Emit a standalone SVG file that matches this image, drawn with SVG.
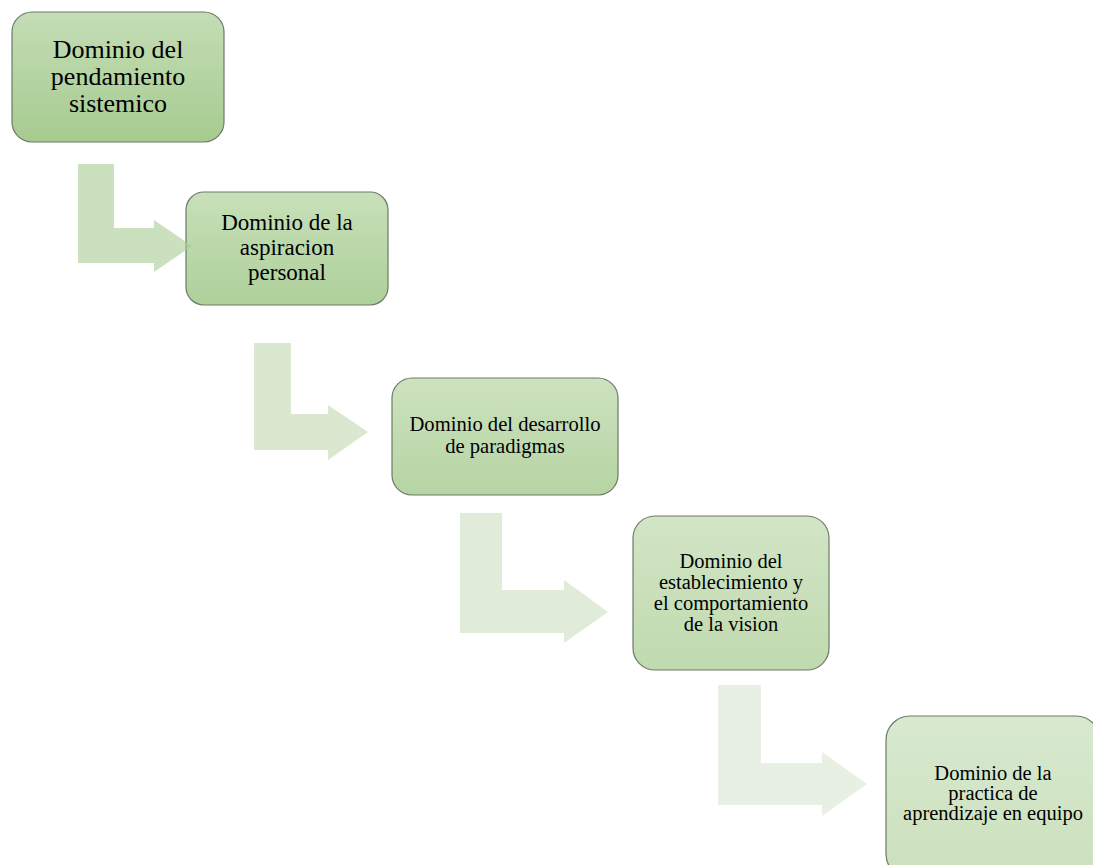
<svg xmlns="http://www.w3.org/2000/svg" width="1093" height="865" viewBox="0 0 1093 865">
<style>
.box{stroke:#6c7a66;stroke-width:1.2}
text{font-family:'Liberation Serif','Times New Roman',serif;fill:#000;text-anchor:middle}
</style>
<defs>
<linearGradient id="g1" x1="0" y1="0" x2="0" y2="1"><stop offset="0" stop-color="#c4ddb5"/><stop offset="1" stop-color="#a6cb90"/></linearGradient>
<linearGradient id="g2" x1="0" y1="0" x2="0" y2="1"><stop offset="0" stop-color="#c8e0b9"/><stop offset="1" stop-color="#aed09a"/></linearGradient>
<linearGradient id="g3" x1="0" y1="0" x2="0" y2="1"><stop offset="0" stop-color="#cde2bf"/><stop offset="1" stop-color="#b6d4a3"/></linearGradient>
<linearGradient id="g4" x1="0" y1="0" x2="0" y2="1"><stop offset="0" stop-color="#d2e5c6"/><stop offset="1" stop-color="#c0daae"/></linearGradient>
<linearGradient id="g5" x1="0" y1="0" x2="0" y2="1"><stop offset="0" stop-color="#d8e9cf"/><stop offset="1" stop-color="#cbe1bd"/></linearGradient>
</defs>
<g id="n1"><rect class="box" x="12" y="12" width="212" height="130" rx="20" fill="url(#g1)"/>
<text font-family="Liberation Serif, serif" font-size="26"><tspan x="118" y="58">Dominio del</tspan><tspan x="118" y="85">pendamiento</tspan><tspan x="118" y="112">sistemico</tspan></text></g>
<g id="n2"><rect class="box" x="186" y="192" width="202" height="113" rx="18" fill="url(#g2)"/>
<text font-family="Liberation Serif, serif" font-size="23"><tspan x="287" y="230">Dominio de la</tspan><tspan x="287" y="255">aspiracion</tspan><tspan x="287" y="280">personal</tspan></text></g>
<g id="n3"><rect class="box" x="392" y="378" width="226" height="117" rx="20" fill="url(#g3)"/>
<text font-family="Liberation Serif, serif" font-size="20.6"><tspan x="505" y="431">Dominio del desarrollo</tspan><tspan x="505" y="453">de paradigmas</tspan></text></g>
<g id="n4"><rect class="box" x="633" y="516" width="196" height="154" rx="22" fill="url(#g4)"/>
<text font-family="Liberation Serif, serif" font-size="20.5"><tspan x="731" y="568">Dominio del</tspan><tspan x="731" y="589">establecimiento y</tspan><tspan x="731" y="610">el comportamiento</tspan><tspan x="731" y="631">de la vision</tspan></text></g>
<g id="n5"><rect class="box" x="886" y="716" width="214" height="162" rx="24" fill="url(#g5)"/>
<text font-family="Liberation Serif, serif" font-size="20.5"><tspan x="993" y="780">Dominio de la</tspan><tspan x="993" y="800">practica de</tspan><tspan x="993" y="820">aprendizaje en equipo</tspan></text></g>
<g id="connectors">
<path d="M78,164 H114 V228 H154 V220 L192,246 L154,272 V263 H78 Z" fill="#a9cc95" fill-opacity="0.6"/>
<path d="M254,343 H291 V414 H328 V405 L368,432 L328,460 V450 H254 Z" fill="#bad6a8" fill-opacity="0.55"/>
<path d="M460,513 H502 V590 H564 V580 L608,612 L564,643 V633 H460 Z" fill="#c7ddb9" fill-opacity="0.55"/>
<path d="M718,685 H761 V763 H822 V752 L867,784 L822,816 V805 H718 Z" fill="#d4e4ca" fill-opacity="0.55"/>
</g>
</svg>
